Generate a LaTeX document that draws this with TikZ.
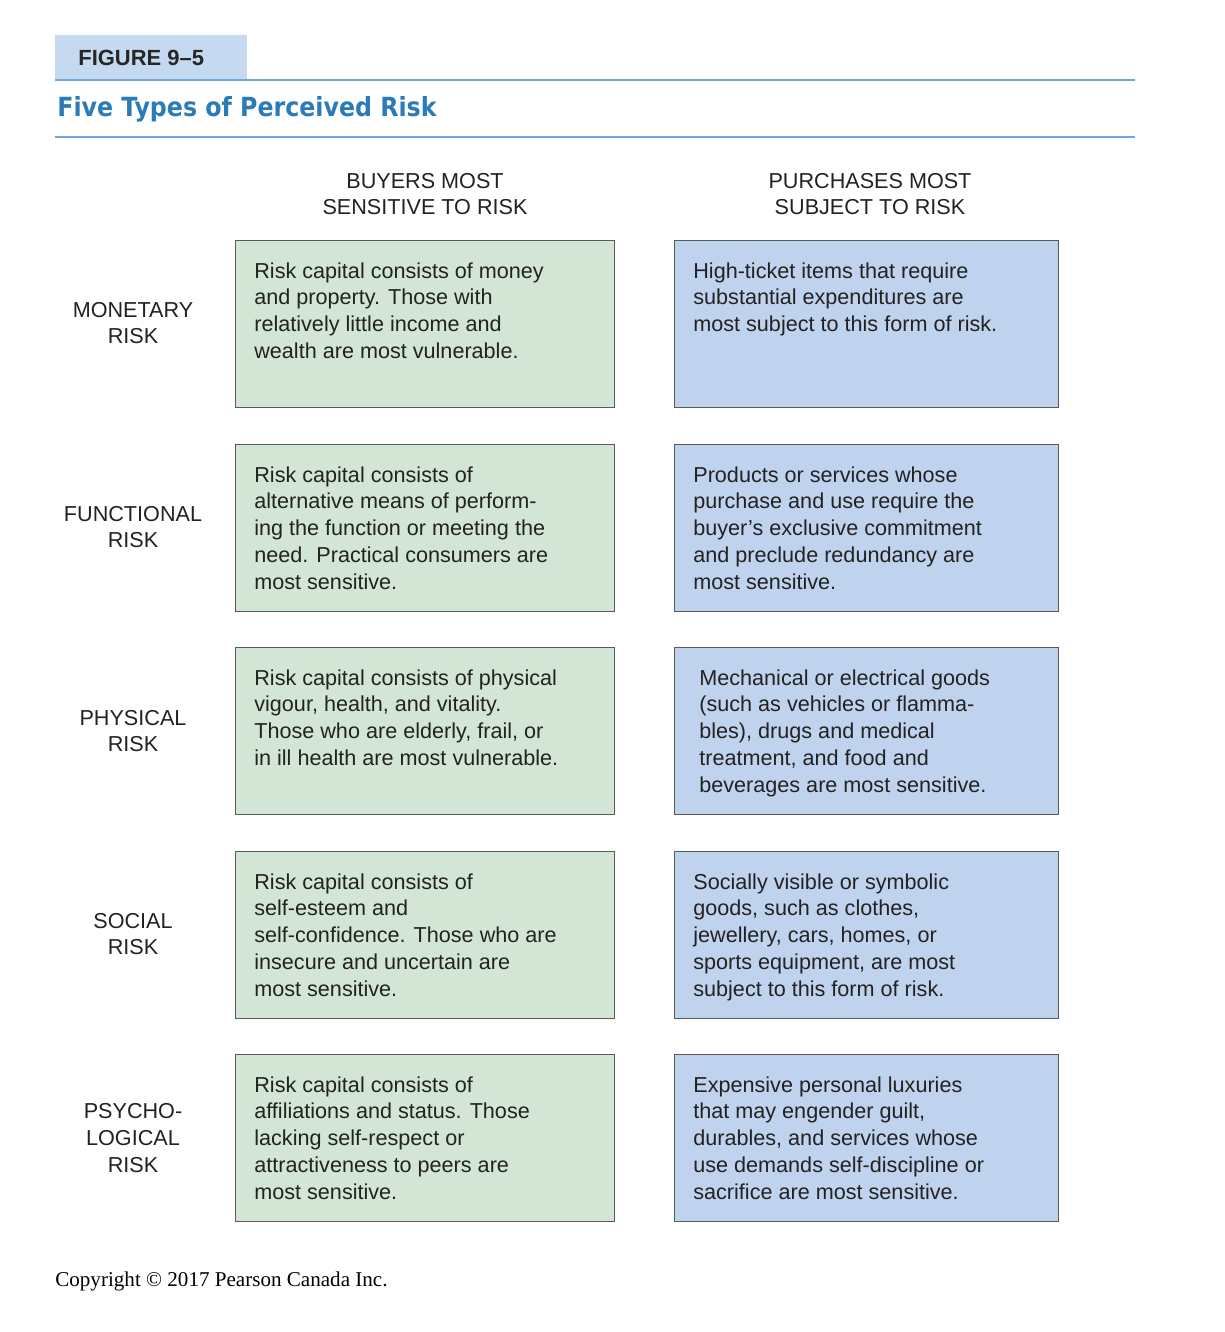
\documentclass[tikz,border=0pt]{standalone}
\usepackage{fontspec}
\setmainfont{Liberation Sans}
\newfontfamily\serifc{Liberation Serif}
\newfontfamily\condf{DejaVu Sans Condensed}
\definecolor{gbox}{HTML}{D3E6D5}
\definecolor{bbox}{HTML}{C0D3EE}
\definecolor{hdr}{HTML}{C5DAF0}
\definecolor{tline}{HTML}{6FA8DC}
\definecolor{ttl}{HTML}{2B7BB9}
\definecolor{bord}{HTML}{5A5A5A}
\definecolor{txt}{HTML}{222222}
\begin{document}
\begin{tikzpicture}[x=0.02cm,y=-0.02cm,
  cell/.style={draw=bord,line width=0.8pt,minimum width=#1*0.02cm,minimum height=167*0.02cm,anchor=north west},
  body/.style={anchor=north west,align=left,inner sep=0pt,font=\fontsize{12.3}{15.3}\selectfont,text=txt},
  lab/.style={align=center,inner sep=0pt,font=\fontsize{12.3}{15.3}\selectfont,text=txt}]
\useasboundingbox (0,0) rectangle (1224,1332);
\fill[white] (0,0) rectangle (1224,1332);
\fill[hdr] (55,35) rectangle (247,80);
\node[anchor=west,inner sep=0pt,font=\bfseries\fontsize{12.5}{14}\selectfont,text=black!85] (fig) at (78,58) {FIGURE 9–5};
\draw[tline,line width=1pt] (55,80) -- (1135,80);
\node[anchor=west,inner sep=0pt,font=\condf\bfseries\fontsize{15}{18}\selectfont,text=ttl] (title) at (57,109) {Five Types of Perceived Risk};
\draw[tline,line width=1pt] (55,137) -- (1135,137);
\node[lab] (h1) at (425,194) {BUYERS MOST\\SENSITIVE TO RISK};
\node[lab] (h2) at (870,194) {PURCHASES MOST\\SUBJECT TO RISK};
\foreach \t/\n in {240/1,444/2,647/3,851/4,1054/5}{
  \node[cell=379,fill=gbox] (g\n) at (235,\t) {};
  \node[cell=384,fill=bbox] (b\n) at (674,\t) {};
}
\node[lab] (r1) at (133,323) {MONETARY\\RISK};
\node[lab] (r2) at (133,527) {FUNCTIONAL\\RISK};
\node[lab] (r3) at (133,731) {PHYSICAL\\RISK};
\node[lab] (r4) at (133,934) {SOCIAL\\RISK};
\node[lab] (r5) at (133,1138) {PSYCHO-\\LOGICAL\\RISK};
\node[body] (tg1) at (254,262) {Risk capital consists of money\\and property. Those with\\relatively little income and\\wealth are most vulnerable.};
\node[body] (tb1) at (693,262) {High-ticket items that require\\substantial expenditures are\\most subject to this form of risk.};
\node[body] (tg2) at (254,466) {Risk capital consists of\\alternative means of perform-\\ing the function or meeting the\\need. Practical consumers are\\most sensitive.};
\node[body] (tb2) at (693,466) {Products or services whose\\purchase and use require the\\buyer’s exclusive commitment\\and preclude redundancy are\\most sensitive.};
\node[body] (tg3) at (254,669) {Risk capital consists of physical\\vigour, health, and vitality.\\Those who are elderly, frail, or\\in ill health are most vulnerable.};
\node[body] (tb3) at (699,669) {Mechanical or electrical goods\\(such as vehicles or flamma-\\bles), drugs and medical\\treatment, and food and\\beverages are most sensitive.};
\node[body] (tg4) at (254,873) {Risk capital consists of\\self-esteem and\\self-confidence. Those who are\\insecure and uncertain are\\most sensitive.};
\node[body] (tb4) at (693,873) {Socially visible or symbolic\\goods, such as clothes,\\jewellery, cars, homes, or\\sports equipment, are most\\subject to this form of risk.};
\node[body] (tg5) at (254,1076) {Risk capital consists of\\affiliations and status. Those\\lacking self-respect or\\attractiveness to peers are\\most sensitive.};
\node[body] (tb5) at (693,1076) {Expensive personal luxuries\\that may engender guilt,\\durables, and services whose\\use demands self-discipline or\\sacrifice are most sensitive.};
\node[anchor=west,inner sep=0pt,font=\serifc\fontsize{12}{14}\selectfont] (copy) at (55,1281) {Copyright © 2017 Pearson Canada Inc.};
\end{tikzpicture}
\end{document}
